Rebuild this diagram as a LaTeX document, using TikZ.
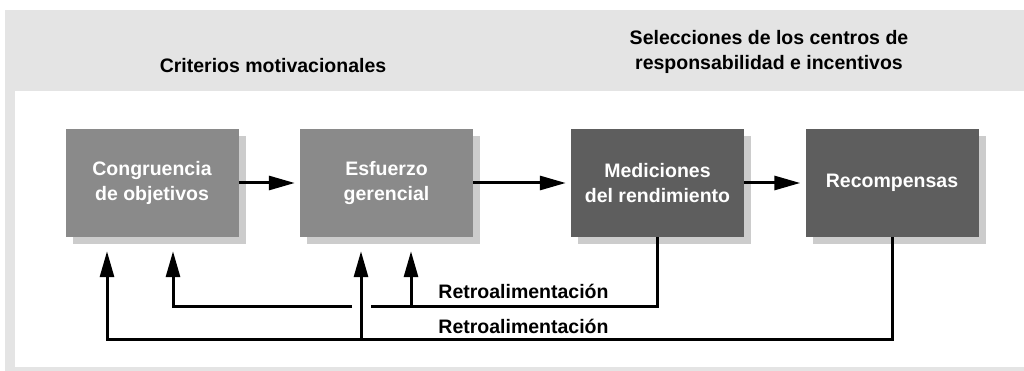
\documentclass[tikz,border=0pt]{standalone}
\usepackage{fontspec}
\setmainfont{Liberation Sans}
\usetikzlibrary{arrows.meta,positioning,calc,shadows}
\definecolor{PanelGray}{HTML}{E4E4E4}
\definecolor{ShadowGray}{HTML}{CCCCCC}
\definecolor{BoxLight}{HTML}{8A8A8A}
\definecolor{BoxDark}{HTML}{5E5E5E}

\begin{document}
\begin{tikzpicture}[x=1pt, y=-1pt, >={Triangle[length=26pt,width=14pt]},
   font=\fontsize{19.5}{25}\selectfont\bfseries,
   box/.style={minimum width=173pt, minimum height=108pt, inner sep=0pt,
               align=center, text=white,
               drop shadow={shadow xshift=7pt, shadow yshift=-7pt, fill=ShadowGray, opacity=1}},
   fb/.style={line width=3pt}]
  \useasboundingbox (0,0) rectangle (1024,371);
  \fill[PanelGray] (5,10) rectangle (1024,371);
  \fill[white] (15,91) rectangle (1024,367);
  \node (crit) at (273,66) {Criterios motivacionales};
  \node[align=center] (sel) at (769,52) {Selecciones de los centros de\\responsabilidad e incentivos};
  \node[box, fill=BoxLight] (c) at (152,183)   {Congruencia\\de objetivos};
  \node[box, fill=BoxLight] (e) at (386.5,183) {Esfuerzo\\gerencial};
  \node[box, fill=BoxDark]  (m) at (657.5,183) {Mediciones\\del rendimiento};
  \node[box, fill=BoxDark]  (r) at (892,183)   {Recompensas};
  \draw[->,line width=3pt,shorten >=5pt] (c) -- (e);
  \draw[->,line width=3pt,shorten >=5pt] (e) -- (m);
  \draw[->,line width=3pt,shorten >=5pt] (m) -- (r);
  % feedback
  \coordinate (c1) at ([xshift=-45pt,yshift=-14pt]c.south);
  \coordinate (c2) at ([xshift=21pt,yshift=-14pt]c.south);
  \coordinate (e1) at ([xshift=-25.5pt,yshift=-14pt]e.south);
  \coordinate (e2) at ([xshift=24.5pt,yshift=-14pt]e.south);
  \coordinate (gapL) at (352,306);
  \coordinate (gapR) at (371,306);
  \coordinate (low) at (0,339);
  \draw[fb] (m.south) |- (gapR);
  \draw[fb,->] (gapL) -| (c2);
  \draw[fb,->] (e2 |- gapR) -- (e2);
  \draw[fb,->] (r.south) -- (r.south |- low) -| (c1);
  \draw[fb,->] (e1 |- low) -- (e1);
  \node[anchor=base] (fb1) at (523.5,298) {Retroalimentación};
  \node[anchor=base] (fb2) at (523.5,333) {Retroalimentación};
\end{tikzpicture}
\end{document}
